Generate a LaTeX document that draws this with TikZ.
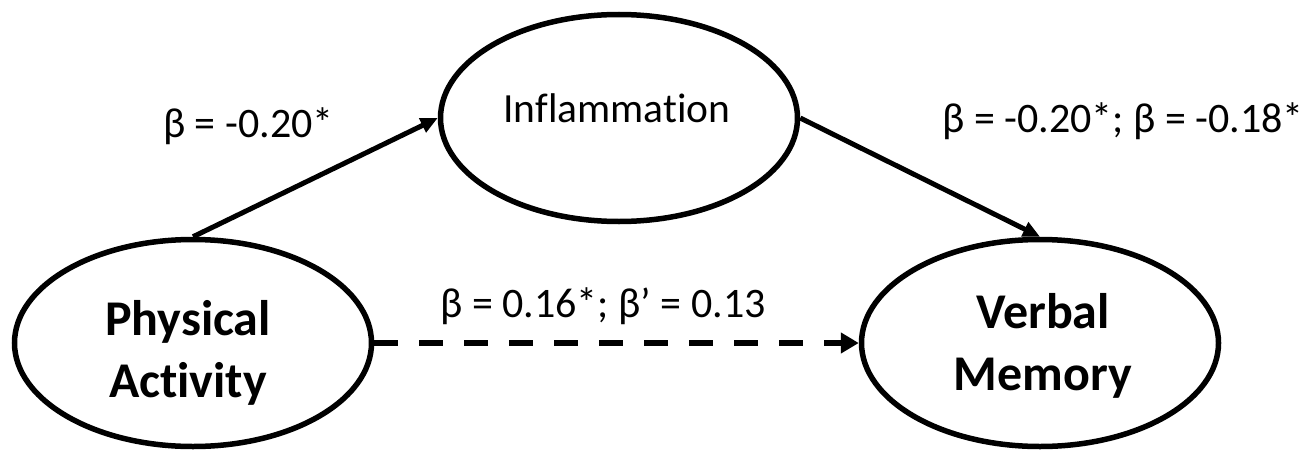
\documentclass[tikz,border=0pt]{standalone}
\usepackage{fontspec}
\setmainfont{Carlito}[Ligatures=NoCommon]
\usetikzlibrary{arrows.meta,shapes.geometric}
\begin{document}
\begin{tikzpicture}[x=1pt,y=-1pt,
  oval/.style={draw=black,line width=5.5pt,ellipse,minimum width=357pt,minimum height=207pt,inner sep=0pt},
  big/.style={font=\fontsize{50}{62}\selectfont\bfseries,align=center,inner sep=0pt,anchor=base},
  lab/.style={font=\fontsize{42}{50}\selectfont,inner sep=0pt,anchor=base west},
  conn/.style={line width=5pt,-{Triangle[length=17pt,width=15pt]}},
  dconn/.style={line width=6.5pt,dash pattern=on 24pt off 21pt,-{Triangle[length=18pt,width=20pt]}}]
\useasboundingbox (0,0) rectangle (1313,452);
\node[oval] (pa) at (193,343) {};
\node[oval] (infl) at (619,118) {};
\node[oval] (vm) at (1040,343) {};
\node[big] (paT) at (188,397) {Physical\\Activity};
\node[font=\fontsize{41.5}{50}\selectfont,inner sep=0pt,anchor=base] (inflT) at (617,122) {Inflammation};
\node[big] (vmT) at (1043,390) {Verbal\\Memory};
\draw[conn] (pa.north) -- (infl.west);
\draw[conn] (infl.east) -- (vm.north);
\draw[dconn] (pa.east) -- (vm.west);
\node[lab] (l1) at (163,137) {β = -0.20*};
\node[lab] (l2) at (942,132) {β = -0.20*; β = -0.18*};
\node[lab] (l3) at (440,317) {β = 0.16*; β’ = 0.13};
\end{tikzpicture}
\end{document}
